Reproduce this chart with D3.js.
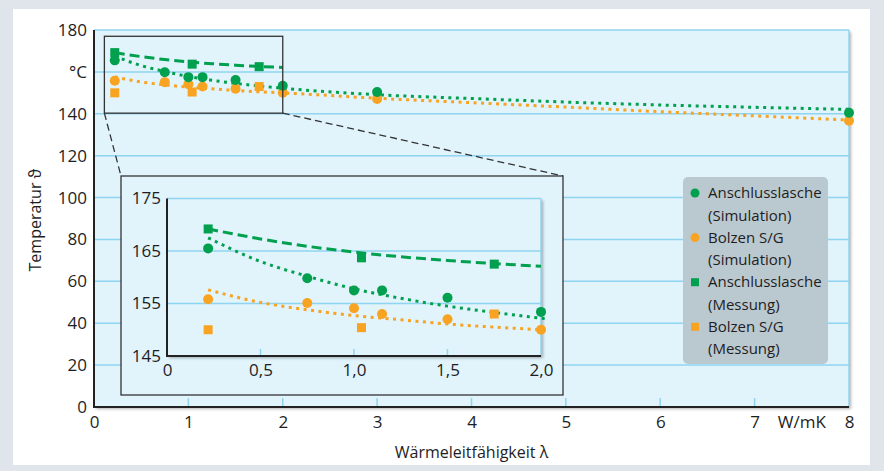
<!DOCTYPE html>
<html>
<head>
<meta charset="utf-8">
<script src="https://cdn.jsdelivr.net/npm/d3@7"></script>
<style>
  body { margin: 0; background: #dfe5ea; }
  text { font-family: "Open Sans", sans-serif; fill: #1e1e1e; }
</style>
</head>
<body>
<div id="chart"></div>
<script>
// values
var simX = [0.22, 0.75, 1.0, 1.15, 1.5, 2.0, 3.0, 8.0];
var laschSim = [165.5, 159.8, 157.5, 157.5, 156.1, 153.4, 150.4, 140.5];
var bolzenSim = [155.8, 155.1, 154.1, 153.0, 152.0, 150.0, 147.1, 136.7];
var messX = [0.22, 1.04, 1.75];
var laschMess = [169.2, 163.7, 162.5];
var bolzenMess = [150.0, 150.4, 153.0];

// trend curves (read at a few positions)
var trendX = [0.22, 0.5, 0.75, 1, 1.25, 1.5, 1.75, 2, 3, 4, 5, 6, 7, 8];
var laschSimTrend = [167.5, 163.0, 160.2, 157.8, 156.0, 154.5, 153.3, 152.2, 149.1, 147.3, 145.6, 144.2, 143.1, 142.1];
var bolzenSimTrend = [157.6, 155.2, 153.8, 152.7, 151.9, 151.1, 150.5, 150.0, 147.4, 145.3, 143.2, 141.0, 139.0, 137.0];
var messTrendX = [0.22, 0.5, 0.75, 1, 1.25, 1.5, 1.75, 2];
var laschMessTrend = [169.2, 167.3, 165.9, 164.8, 163.9, 163.2, 162.6, 162.1];

var xTicks = [0, 1, 2, 3, 4, 5, 6, 7, 8];
var yTicks = [0, 20, 40, 60, 80, 100, 120, 140, 160, 180];
var insetXTicks = [0, 0.5, 1.0, 1.5, 2.0];
var insetYTicks = [145, 155, 165, 175];
var legendLabels = [["Anschlusslasche", "(Simulation)"], ["Bolzen S/G", "(Simulation)"],
                    ["Anschlusslasche", "(Messung)"], ["Bolzen S/G", "(Messung)"]];

var green = "#00a04f", orange = "#f8a322";
var bg = "#e1f3fb", grid = "#8fd4f1";

var svg = d3.select("#chart").append("svg").attr("width", 884).attr("height", 471);
var defs = svg.append("defs");
var f = defs.append("filter").attr("id", "shadow").attr("x", "-5%").attr("y", "-5%").attr("width", "115%").attr("height", "115%");
f.append("feDropShadow").attr("dx", 2).attr("dy", 2).attr("stdDeviation", 1.5).attr("flood-color", "#000").attr("flood-opacity", 0.3);

svg.append("rect").attr("width", 884).attr("height", 471).attr("fill", "#dfe5ea");
svg.append("rect").attr("x", 13).attr("y", 9).attr("width", 857).attr("height", 456).attr("fill", "#fff");

var x = d3.scaleLinear().domain([0, 8]).range([94, 849]);
var y = d3.scaleLinear().domain([0, 180]).range([407, 30]);

// plot area
svg.append("rect").attr("x", x(0)).attr("y", y(180)).attr("width", x(8) - x(0)).attr("height", y(0) - y(180))
  .attr("fill", bg).attr("filter", "url(#shadow)");
svg.append("g").selectAll("line").data(yTicks.filter(function(d) { return d > 0; })).enter().append("line")
  .attr("x1", x(0)).attr("x2", x(8)).attr("y1", function(d) { return y(d); }).attr("y2", function(d) { return y(d); })
  .attr("stroke", grid).attr("stroke-width", 1.5);
svg.append("line").attr("x1", x(8)).attr("x2", x(8)).attr("y1", y(180)).attr("y2", y(0)).attr("stroke", grid).attr("stroke-width", 1.5);
svg.append("g").selectAll("line").data(xTicks.slice(1, 8)).enter().append("line")
  .attr("x1", function(d) { return x(d); }).attr("x2", function(d) { return x(d); })
  .attr("y1", y(0)).attr("y2", y(0) - 9).attr("stroke", grid).attr("stroke-width", 1.5);
svg.append("path").attr("d", "M" + x(0) + "," + y(180) + "V" + y(0) + "H" + x(8))
  .attr("fill", "none").attr("stroke", "#222").attr("stroke-width", 2);

// axes labels
var yAxis = d3.axisLeft(y).tickValues(yTicks).tickSize(0).tickPadding(7)
  .tickFormat(function(d) { return d == 160 ? "°C" : d; });
var ya = svg.append("g").attr("transform", "translate(" + x(0) + ",0)").call(yAxis);
ya.select(".domain").remove();
ya.selectAll("text").style("font-size", "17px").style("font-family", "Open Sans");

var xAxis = d3.axisBottom(x).tickValues(xTicks).tickSize(0).tickPadding(9);
var xa = svg.append("g").attr("transform", "translate(0," + y(0) + ")").call(xAxis);
xa.select(".domain").remove();
xa.selectAll("text").style("font-size", "17px").style("font-family", "Open Sans");
svg.append("text").attr("x", x(7.5)).attr("y", y(0) + 21).attr("text-anchor", "middle").style("font-size", "17px").text("W/mK");

svg.append("text").attr("x", x(4)).attr("y", 458).attr("text-anchor", "middle").style("font-size", "16px").text("Wärmeleitfähigkeit λ");
svg.append("text").attr("transform", "translate(41," + 220 + ")rotate(-90)").attr("text-anchor", "middle")
  .style("font-size", "16px").text("Temperatur ϑ");

// series drawing helper
function drawSeries(g, sx, sy, clip) {
  var line = function(xs, ys) {
    return d3.line().x(function(d) { return sx(d); }).y(function(d, i) { return sy(ys[i]); }).curve(d3.curveMonotoneX)(xs);
  };
  var lines = g.append("g").attr("clip-path", clip);
  lines.append("path").attr("d", line(messTrendX, laschMessTrend)).attr("fill", "none")
    .attr("stroke", green).attr("stroke-width", 3).attr("stroke-dasharray", "10,5");
  lines.append("path").attr("d", line(trendX, laschSimTrend)).attr("fill", "none")
    .attr("stroke", green).attr("stroke-width", 3).attr("stroke-dasharray", "3,4.5");
  lines.append("path").attr("d", line(trendX, bolzenSimTrend)).attr("fill", "none")
    .attr("stroke", orange).attr("stroke-width", 3).attr("stroke-dasharray", "3,4.5");
  var pts = g.append("g").attr("clip-path", clip);
  simX.forEach(function(v, i) {
    pts.append("circle").attr("cx", sx(v)).attr("cy", sy(bolzenSim[i])).attr("r", 5).attr("fill", orange);
    pts.append("circle").attr("cx", sx(v)).attr("cy", sy(laschSim[i])).attr("r", 5).attr("fill", green);
  });
  messX.forEach(function(v, i) {
    pts.append("rect").attr("x", sx(v) - 4.5).attr("y", sy(laschMess[i]) - 4.5).attr("width", 9).attr("height", 9).attr("fill", green);
    pts.append("rect").attr("x", sx(v) - 4.5).attr("y", sy(bolzenMess[i]) - 4.5).attr("width", 9).attr("height", 9).attr("fill", orange);
  });
}
drawSeries(svg.append("g"), x, y, null);

// zoom rectangle and connectors
svg.append("rect").attr("x", x(0.11)).attr("y", y(177)).attr("width", x(2) - x(0.11)).attr("height", y(140.3) - y(177))
  .attr("fill", "none").attr("stroke", "#333").attr("stroke-width", 1.3);
var box = {x0: 121, y0: 176, x1: 563, y1: 395};
svg.append("line").attr("x1", x(0.11)).attr("y1", y(140.3)).attr("x2", box.x0).attr("y2", box.y0)
  .attr("stroke", "#333").attr("stroke-width", 1.3).attr("stroke-dasharray", "7,4");
svg.append("line").attr("x1", x(2)).attr("y1", y(140.3)).attr("x2", box.x1).attr("y2", box.y0)
  .attr("stroke", "#333").attr("stroke-width", 1.3).attr("stroke-dasharray", "7,4");

// inset
svg.append("rect").attr("x", box.x0).attr("y", box.y0).attr("width", box.x1 - box.x0).attr("height", box.y1 - box.y0)
  .attr("fill", bg).attr("stroke", "#333").attr("stroke-width", 1.3);
var xi = d3.scaleLinear().domain([0, 2]).range([167, 541]);
var yi = d3.scaleLinear().domain([145, 175]).range([356, 198.5]);
var ig = svg.append("g");
ig.append("rect").attr("x", xi(0)).attr("y", yi(175)).attr("width", xi(2) - xi(0)).attr("height", yi(145) - yi(175))
  .attr("fill", bg).attr("filter", "url(#shadow)");
ig.selectAll("line.g").data([155, 165, 175]).enter().append("line")
  .attr("x1", xi(0)).attr("x2", xi(2)).attr("y1", function(d) { return yi(d); }).attr("y2", function(d) { return yi(d); })
  .attr("stroke", grid).attr("stroke-width", 1.5);
ig.append("line").attr("x1", xi(2)).attr("x2", xi(2)).attr("y1", yi(175)).attr("y2", yi(145)).attr("stroke", grid).attr("stroke-width", 1.5);
ig.selectAll("line.t").data([0.5, 1.0, 1.5]).enter().append("line")
  .attr("x1", function(d) { return xi(d); }).attr("x2", function(d) { return xi(d); })
  .attr("y1", yi(145)).attr("y2", yi(145) - 7).attr("stroke", grid).attr("stroke-width", 1.5);
ig.append("path").attr("d", "M" + xi(0) + "," + yi(175) + "V" + yi(145) + "H" + xi(2))
  .attr("fill", "none").attr("stroke", "#222").attr("stroke-width", 2);
defs.append("clipPath").attr("id", "insetClip").append("rect")
  .attr("x", xi(0)).attr("y", yi(175)).attr("width", xi(2) - xi(0) + 8).attr("height", yi(145) - yi(175));
drawSeries(ig, xi, yi, "url(#insetClip)");

var iya = ig.append("g").attr("transform", "translate(" + xi(0) + ",0)")
  .call(d3.axisLeft(yi).tickValues(insetYTicks).tickSize(0).tickPadding(6));
iya.select(".domain").remove();
iya.selectAll("text").style("font-size", "17px").style("font-family", "Open Sans");
var ixa = ig.append("g").attr("transform", "translate(0," + yi(145) + ")")
  .call(d3.axisBottom(xi).tickValues(insetXTicks).tickSize(0).tickPadding(8)
    .tickFormat(function(d) { return d == 0 ? "0" : d3.format(".1f")(d).replace(".", ","); }));
ixa.select(".domain").remove();
ixa.selectAll("text").style("font-size", "17px").style("font-family", "Open Sans");

// legend
var lg = svg.append("g").attr("transform", "translate(683,177)");
lg.append("rect").attr("width", 145).attr("height", 187).attr("rx", 5).attr("fill", "#bac8d0");
var lineH = 22.3;
legendLabels.forEach(function(lab, i) {
  var cy = 16 + i * 2 * lineH;
  var col = i % 2 == 0 ? green : orange;
  if (i < 2) lg.append("circle").attr("cx", 12).attr("cy", cy).attr("r", 4.5).attr("fill", col);
  else lg.append("rect").attr("x", 8).attr("y", cy - 4).attr("width", 8).attr("height", 8).attr("fill", col);
  lab.forEach(function(t, j) {
    lg.append("text").attr("x", 25).attr("y", cy + j * lineH).attr("dy", "0.35em").style("font-size", "15px").text(t);
  });
});
</script>
</body>
</html>
